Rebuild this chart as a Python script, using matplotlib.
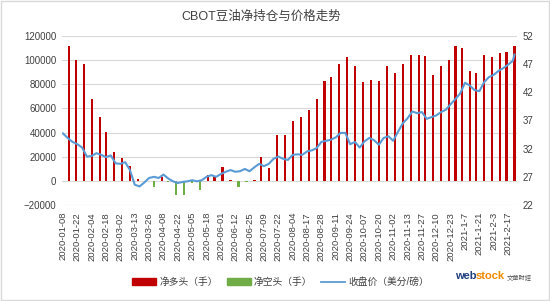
import numpy as np
import pandas as pd
import matplotlib
matplotlib.use('Agg')
import matplotlib.pyplot as plt
from matplotlib.patches import Rectangle, Patch
from matplotlib.lines import Line2D

plt.rcParams['font.family'] = ['Liberation Sans', 'Noto Sans CJK SC', 'DejaVu Sans']

# торговые дни CBOT
holidays = ['2020-01-20', '2020-02-17', '2020-04-10', '2020-05-25', '2020-07-03',
            '2020-09-07', '2020-11-26', '2020-12-25', '2021-01-01', '2021-01-18',
            '2021-02-15']
days = pd.bdate_range('2020-01-08', '2021-02-23')
days = days[~days.isin(pd.to_datetime(holidays))]

tick_labels = ['2020-01-08', '2020-01-22', '2020-02-04', '2020-02-18', '2020-03-02',
               '2020-03-13', '2020-03-26', '2020-04-08', '2020-04-22', '2020-05-05',
               '2020-05-18', '2020-06-01', '2020-06-12', '2020-06-25', '2020-07-09',
               '2020-07-22', '2020-08-04', '2020-08-17', '2020-08-28', '2020-09-11',
               '2020-09-24', '2020-10-07', '2020-10-20', '2020-11-02', '2020-11-13',
               '2020-11-27', '2020-12-10', '2020-12-23', '2021-1-7', '2021-1-21',
               '2021-2-3', '2021-2-17']

# недельные данные (вторник) - чистая позиция, контракты
cot_dates = pd.date_range('2020-01-14', '2021-02-23', freq='W-TUE')
net_pos = [111400, 100400, 97100, 68000, 52900, 40100, 23500, 18800, 11900, 1600,
           -500, -5200, 3300, -1000, -11600, -11600, -1500, -7200, 4700, 4200,
           11600, 800, -4700, -1000, 800, 19500, 11000, 37900, 37900, 49800,
           53200, 58900, 68000, 82400, 86000, 96400, 102600, 94900, 81800, 83400,
           82600, 94900, 89200, 97100, 104300, 104300, 103600, 88000, 95400, 100400,
           111400, 110000, 91100, 89400, 104300, 102600, 106300, 106900, 111400]

# цена закрытия, центы/фунт (каждый 3-й торговый день + последний)
price = [34.7, 33.9, 33.2, 32.8, 32.2, 30.6, 30.7, 31.2, 30.9, 30.5,
         30.8, 29.4, 29.3, 29.6, 28.2, 25.6, 25.3, 26.0, 26.8, 27.0,
         26.8, 27.4, 26.7, 26.2, 25.9, 26.1, 26.2, 26.4, 26.2, 26.4,
         27.0, 27.3, 27.0, 27.5, 27.9, 28.2, 27.9, 28.0, 28.4, 28.0,
         28.7, 29.3, 28.9, 29.3, 30.2, 30.6, 30.2, 30.0, 30.9, 31.0,
         30.9, 31.5, 31.7, 32.1, 33.2, 33.4, 33.6, 34.0, 34.8, 34.8,
         32.8, 33.2, 32.2, 33.3, 33.9, 33.5, 32.7, 33.9, 34.2, 33.4,
         35.0, 36.5, 37.4, 38.6, 38.3, 38.5, 37.3, 37.6, 37.9, 38.5,
         38.9, 39.9, 40.8, 41.8, 43.7, 43.2, 42.4, 42.2, 43.8, 44.7,
         45.1, 45.8, 46.3, 46.9, 47.6, 48.7]
price_dates = days[::3].append(days[-1:])

x_bar = days.get_indexer(cot_dates)
x_price = days.get_indexer(price_dates)
net_pos = np.array(net_pos)
longs = np.where(net_pos > 0, net_pos, 0)
shorts = np.where(net_pos < 0, net_pos, 0)

fig = plt.figure(figsize=(5.5, 3.01), dpi=100)
fig.patches.append(Rectangle((0.002, 0.003), 0.996, 0.994, transform=fig.transFigure,
                             fill=False, edgecolor='#D9D9D9', lw=1))
ax = fig.add_axes([62 / 550, 1 - 205 / 301, 455 / 550, 169 / 301])
ax2 = ax.twinx()

ax.bar(x_bar, longs, width=1.4, color='#C00000', zorder=2)
ax.bar(x_bar, shorts, width=1.4, color='#70AD47', zorder=2)
ax2.plot(x_price, price, color='#5B9BD5', lw=1.5, zorder=3)

ax.set_ylim(-20000, 120000)
ax.set_yticks(np.arange(-20000, 120001, 20000))
ax.grid(axis='y', color='#D9D9D9', lw=0.8, zorder=0)
ax.set_axisbelow(True)
ax2.set_ylim(22, 52)
ax2.set_yticks(np.arange(22, 53, 5))
ax.set_xlim(-0.6, 284.6)
ax.set_xticks(np.arange(len(tick_labels)) * 9)
ax.set_xticklabels(tick_labels, rotation=90)

for a in (ax, ax2):
    for s in a.spines.values():
        s.set_visible(False)
    a.tick_params(length=0, labelsize=7, colors='#404040', pad=4)
ax.tick_params(axis='x', labelsize=6.8, pad=5)

fig.text(0.475, 0.944, 'CBOT豆油净持仓与价格走势', ha='center', va='center',
         fontsize=9, color='#404040')

handles = [Patch(color='#C00000'), Patch(color='#70AD47'),
           Line2D([], [], color='#5B9BD5', lw=1.3)]
fig.legend(handles, ['净多头（手）', '净空头（手）', '收盘价（美分/磅）'],
           loc='center', bbox_to_anchor=(0.51, 0.063), ncol=3, frameon=False,
           fontsize=7, handlelength=2.5, handleheight=0.7, columnspacing=0.9,
           handletextpad=0.3, labelcolor='#404040')

# логотип
fig.text(0.828, 0.083, 'web', fontsize=8, fontweight='bold', color='#1F3F7F',
         ha='left', va='center')
fig.text(0.864, 0.083, 'stock', fontsize=8, fontweight='bold', color='#F08A00',
         ha='left', va='center')
fig.text(0.922, 0.075, '文華財經', fontsize=4.5, color='#555555', ha='left',
         va='center', family=['Noto Sans CJK TC'])

fig.savefig('out.png', dpi=100)
